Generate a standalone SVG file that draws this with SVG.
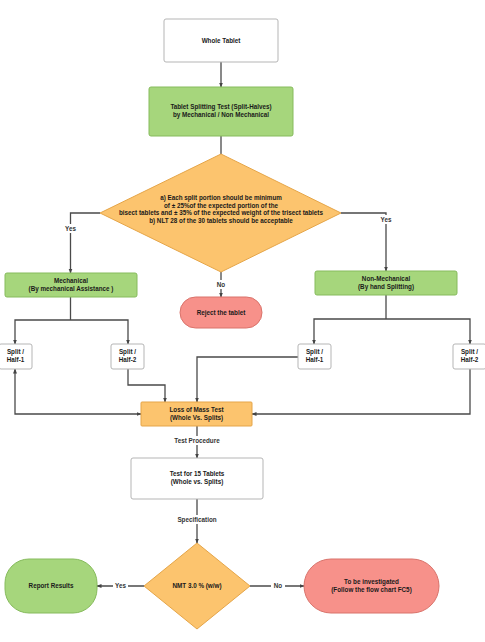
<svg xmlns="http://www.w3.org/2000/svg" width="485" height="642" viewBox="0 0 485 642">
<defs>
<marker id="ah" viewBox="0 0 10 10" refX="9" refY="5" markerWidth="5" markerHeight="5" orient="auto-start-reverse" markerUnits="userSpaceOnUse">
<path d="M0,1 L10,5 L0,9 z" fill="#444"/>
</marker>
<style>
.t{font-family:"Liberation Sans",Arial,sans-serif;font-weight:bold;font-size:6.3px;fill:#1a1a1a;text-anchor:middle;}
.l{font-family:"Liberation Sans",Arial,sans-serif;font-weight:bold;font-size:6.3px;fill:#333;text-anchor:middle;}
.w{fill:#fff;stroke:#b5b5b5;stroke-width:1;}
.g{fill:#a6d67c;stroke:#86bb5c;stroke-width:1;}
.o{fill:#fcc46e;stroke:#e5a548;stroke-width:1;}
.r{fill:#f7918a;stroke:#d9736b;stroke-width:1;}
.c{fill:none;stroke:#4a4a4a;stroke-width:1.3;}
</style>
</defs>
<rect width="485" height="642" fill="#fff"/>
<g id="connectors">
<path class="c" d="M221,62 V87" marker-end="url(#ah)"/>
<path class="c" d="M221,136 V154"/>
<path class="c" d="M100,213 H70.5 V273" marker-end="url(#ah)"/>
<path class="c" d="M341,213 H386 V271" marker-end="url(#ah)"/>
<path class="c" d="M221,272 V297" marker-end="url(#ah)"/>
<path class="c" d="M70.5,297 V320"/>
<path class="c" d="M15,344 V320 H128 V344" marker-start="url(#ah)" marker-end="url(#ah)"/>
<path class="c" d="M386,295 V319"/>
<path class="c" d="M314,344 V319 H470 V344" marker-start="url(#ah)" marker-end="url(#ah)"/>
<path class="c" d="M15,369 V414 H141" marker-start="url(#ah)" marker-end="url(#ah)"/>
<path class="c" d="M128,369 V385 H165 V402" marker-end="url(#ah)"/>
<path class="c" d="M298,357 H197 V402" marker-end="url(#ah)"/>
<path class="c" d="M470,369 V414 H252" marker-end="url(#ah)"/>
<path class="c" d="M197,426 V458" marker-end="url(#ah)"/>
<path class="c" d="M197,499 V543" marker-end="url(#ah)"/>
<path class="c" d="M144,586 H97" marker-end="url(#ah)"/>
<path class="c" d="M250,586 H304" marker-end="url(#ah)"/>
<rect x="180" y="436" width="34" height="9" fill="#fff"/>
<text class="l" x="197" y="443">Test Procedure</text>
<rect x="178" y="515" width="38" height="9" fill="#fff"/>
<text class="l" x="197" y="522">Specification</text>
<rect x="61" y="224" width="19" height="9" fill="#fff"/>
<text class="l" x="70.5" y="230.5">Yes</text>
<rect x="377" y="215" width="18" height="9" fill="#fff"/>
<text class="l" x="386" y="221.5">Yes</text>
<rect x="214" y="280" width="14" height="9" fill="#fff"/>
<text class="l" x="221" y="287">No</text>
<rect x="113" y="581" width="15" height="9" fill="#fff"/>
<text class="l" x="120.5" y="588">Yes</text>
<rect x="271" y="581" width="14" height="9" fill="#fff"/>
<text class="l" x="278" y="588">No</text>
</g>
<g id="whole-tablet">
<rect class="w" x="164" y="19" width="114" height="43" rx="2"/>
<text class="t" x="221" y="42.5">Whole Tablet</text>
</g>
<g id="splitting-test">
<rect class="g" x="149" y="87" width="144" height="49" rx="2"/>
<text class="t" x="221" y="109">Tablet Splitting Test  (Split-Halves)</text>
<text class="t" x="221" y="116.5">by Mechanical / Non Mechanical</text>
</g>
<g id="criteria">
<polygon class="o" points="221,154 341,213 221,272 100,213"/>
<text class="t" x="221" y="200">a) Each split portion should be minimum</text>
<text class="t" x="221" y="207.5">of ± 25%of the expected portion of the</text>
<text class="t" x="221" y="215">bisect tablets and ± 35% of the expected weight of the trisect tablets</text>
<text class="t" x="221" y="222.5">b) NLT 28 of the 30 tablets should be acceptable</text>
</g>
<g id="mechanical">
<rect class="g" x="5" y="273" width="132" height="24" rx="2"/>
<text class="t" x="71" y="282.5">Mechanical</text>
<text class="t" x="71" y="290.5">(By mechanical Assistance )</text>
</g>
<g id="non-mechanical">
<rect class="g" x="315" y="271" width="142" height="24" rx="2"/>
<text class="t" x="386" y="281">Non-Mechanical</text>
<text class="t" x="386" y="288.5">(By hand Splitting)</text>
</g>
<g id="reject">
<rect class="r" x="180" y="297" width="82" height="31" rx="15.5"/>
<text class="t" x="221" y="314.5">Reject the tablet</text>
</g>
<g id="m-half-1">
<rect class="w" x="-1" y="344" width="33" height="25" rx="2"/>
<text class="t" x="15.5" y="354">Split /</text>
<text class="t" x="15.5" y="361.5">Half-1</text>
</g>
<g id="m-half-2">
<rect class="w" x="111" y="344" width="33" height="25" rx="2"/>
<text class="t" x="127.5" y="354">Split /</text>
<text class="t" x="127.5" y="361.5">Half-2</text>
</g>
<g id="n-half-1">
<rect class="w" x="298" y="344" width="33" height="25" rx="2"/>
<text class="t" x="314.5" y="354">Split /</text>
<text class="t" x="314.5" y="361.5">Half-1</text>
</g>
<g id="n-half-2">
<rect class="w" x="453" y="344" width="33" height="25" rx="2"/>
<text class="t" x="469.5" y="354">Split /</text>
<text class="t" x="469.5" y="361.5">Half-2</text>
</g>
<g id="loss-of-mass">
<rect class="o" x="141" y="402" width="111" height="24" rx="1"/>
<text class="t" x="196.5" y="412">Loss of Mass Test</text>
<text class="t" x="196.5" y="419.5">(Whole Vs. Splits)</text>
</g>
<g id="test-15">
<rect class="w" x="131" y="458" width="132" height="41" rx="2"/>
<text class="t" x="197" y="476">Test for 15 Tablets</text>
<text class="t" x="197" y="484">(Whole vs. Splits)</text>
</g>
<g id="nmt">
<polygon class="o" points="197,543 250,586 197,629 144,586"/>
<text class="t" x="197" y="588">NMT 3.0 % (w/w)</text>
</g>
<g id="report">
<rect class="g" x="5" y="559" width="92" height="54" rx="24"/>
<text class="t" x="51" y="588">Report Results</text>
</g>
<g id="investigate">
<rect class="r" x="304" y="559" width="135" height="54" rx="27"/>
<text class="t" x="371.5" y="584">To be investigated</text>
<text class="t" x="371.5" y="592">(Follow the flow chart FC5)</text>
</g>
</svg>
